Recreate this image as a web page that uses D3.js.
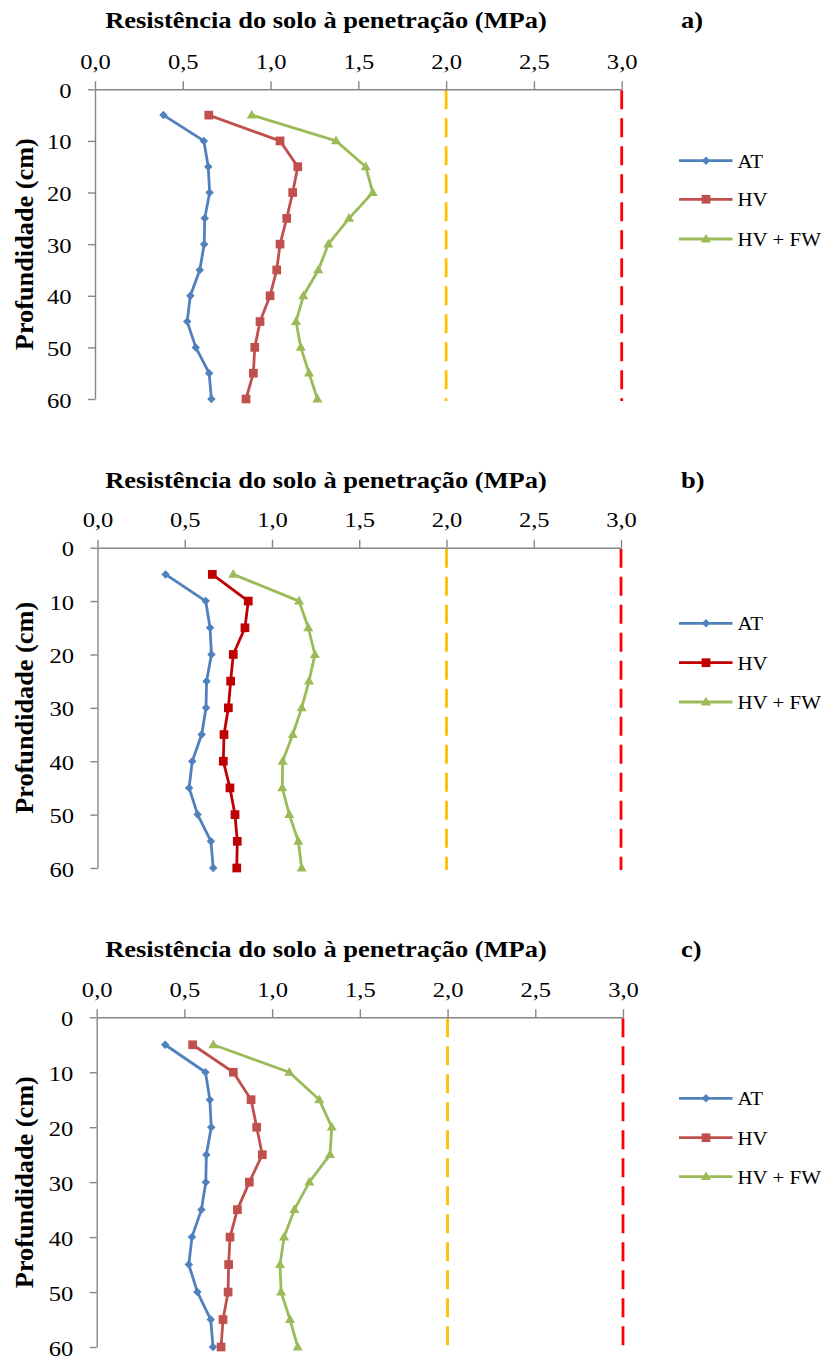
<!DOCTYPE html>
<html>
<head>
<meta charset="utf-8">
<script src="https://cdn.jsdelivr.net/npm/d3@7"></script>
<style>
html,body{margin:0;padding:0;background:#fff;}
svg{display:block;}
text{font-family:"Liberation Serif","Times New Roman",Times,serif;}
</style>
</head>
<body>
<svg id="chart" width="824" height="1358"></svg>
<script>
// ---------- data ----------
const depths = [5, 10, 15, 20, 25, 30, 35, 40, 45, 50, 55, 60];
const xTicks = [0, 0.5, 1.0, 1.5, 2.0, 2.5, 3.0];
const yTicks = [0, 10, 20, 30, 40, 50, 60];
const seriesNames = ["AT", "HV", "HV + FW"];
const panelLabels = ["a)", "b)", "c)"];
const xTitle = "Resistência do solo à penetração (MPa)";
const yTitle = "Profundidade (cm)";
const limits = [2.0, 3.0];

const AT     = [0.39, 0.62, 0.645, 0.653, 0.625, 0.622, 0.597, 0.543, 0.525, 0.574, 0.650, 0.663];
const HV_a   = [0.648, 1.054, 1.155, 1.126, 1.092, 1.054, 1.035, 0.997, 0.940, 0.910, 0.902, 0.860];
const HVFW_a = [0.893, 1.373, 1.542, 1.582, 1.447, 1.329, 1.272, 1.187, 1.145, 1.172, 1.219, 1.267];
const HV_b   = [0.658, 0.864, 0.845, 0.778, 0.763, 0.750, 0.725, 0.721, 0.759, 0.788, 0.801, 0.798];
const HVFW_b = [0.778, 1.155, 1.208, 1.246, 1.212, 1.170, 1.119, 1.061, 1.059, 1.099, 1.151, 1.170];
const HV_c   = [0.547, 0.779, 0.880, 0.912, 0.944, 0.870, 0.802, 0.760, 0.752, 0.749, 0.720, 0.709];
const HVFW_c = [0.665, 1.098, 1.269, 1.340, 1.330, 1.212, 1.127, 1.068, 1.045, 1.051, 1.102, 1.146];

// ---------- layout / style ----------
const AXIS_COLOR = "#868686";
const colAT = "#4F81BD", colFW = "#9BBB59";
const panels = [
  {x0: 95,   x1: 621.7, y0: 89.3,   y1: 399,  hv: HV_a, fw: HVFW_a, hvColor: "#C0504D", titleY: 28.3,  legY: [160.7, 199.3, 239]},
  {x0: 97.5, x1: 621,   y0: 547.7,  y1: 868,  hv: HV_b, fw: HVFW_b, hvColor: "#C00000", titleY: 488.3, legY: [623.3, 662.7, 702]},
  {x0: 96.7, x1: 623,   y0: 1017.3, y1: 1347, hv: HV_c, fw: HVFW_c, hvColor: "#C0504D", titleY: 956.7, legY: [1098.3, 1137.7, 1176.7]}
];

const svg = d3.select("#chart");

// measure the font to derive the horizontal stretch of the original text
const probe = svg.append("text").style("font-weight", "bold").style("font-size", "23.7px").text(xTitle);
const probeLen = probe.node().getComputedTextLength();
probe.remove();
const SX = Math.max(0.9, Math.min(1.2, 441.7 / probeLen));
const SXL = SX * 0.96;

const diamond = d3.symbol().type(d3.symbolSquare).size(36)();
const square = d3.symbol().type(d3.symbolSquare).size(76)();
const triangle = d3.symbol().type(d3.symbolTriangle).size(44)();

function markerPath(kind) {
  if (kind === "diamond") return diamond;
  if (kind === "square") return square;
  return triangle;
}
function markerTransform(kind, x, y) {
  if (kind === "diamond") return `translate(${x},${y}) rotate(45)`;
  if (kind === "triangle") return `translate(${x},${y + 0.5})`;
  return `translate(${x},${y})`;
}

panels.forEach((p, i) => {
  const x = d3.scaleLinear().domain([0, 3]).range([p.x0, p.x1]);
  const y = d3.scaleLinear().domain([0, 60]).range([p.y0, p.y1]);
  const g = svg.append("g");

  // title + panel letter
  g.append("text")
    .attr("transform", `translate(326,${p.titleY}) scale(${SX},1)`)
    .attr("text-anchor", "middle")
    .style("font-weight", "bold").style("font-size", "23.7px")
    .attr("fill", "#000").text(xTitle);
  g.append("text")
    .attr("transform", `translate(681,${p.titleY}) scale(${SX},1)`)
    .style("font-weight", "bold").style("font-size", "23.7px")
    .attr("fill", "#000").text(panelLabels[i]);

  // y title
  g.append("text")
    .attr("transform", `translate(33,${(p.y0 + p.y1) / 2}) rotate(-90)`)
    .attr("text-anchor", "middle")
    .style("font-weight", "bold").style("font-size", "26px")
    .attr("textLength", 212).attr("lengthAdjust", "spacingAndGlyphs")
    .attr("fill", "#000").text(yTitle);

  // limit lines (dashed)
  g.selectAll("line.limit").data(limits).enter().append("line")
    .attr("class", "limit")
    .attr("x1", d => x(d)).attr("x2", d => x(d))
    .attr("y1", p.y0 + 1).attr("y2", p.y1 + 2)
    .attr("stroke", (d, k) => k === 0 ? "#FFC000" : "#FF0000")
    .attr("stroke-width", 2.8)
    .attr("stroke-dasharray", "19,9");

  // x axis (top)
  const xa = g.append("g").attr("transform", `translate(0,${p.y0})`)
    .call(d3.axisTop(x).tickValues(xTicks).tickSize(8).tickSizeOuter(0)
      .tickFormat(d => d.toFixed(1).replace(".", ",")));
  xa.attr("font-family", null);
  xa.select(".domain").attr("stroke", AXIS_COLOR).attr("stroke-width", 1.4);
  xa.selectAll(".tick line").attr("stroke", AXIS_COLOR).attr("stroke-width", 1.4);
  xa.selectAll(".tick text")
    .attr("x", 0).attr("y", 0).attr("dy", 0)
    .attr("transform", `translate(0,-20.5) scale(${SX},1)`)
    .attr("text-anchor", "middle")
    .style("font-size", "22px").attr("fill", "#000");

  // y axis (left)
  const ya = g.append("g").attr("transform", `translate(${p.x0},0)`)
    .call(d3.axisLeft(y).tickValues(yTicks).tickSize(7).tickSizeOuter(0));
  ya.attr("font-family", null);
  ya.select(".domain").attr("stroke", AXIS_COLOR).attr("stroke-width", 1.4);
  ya.selectAll(".tick line").attr("stroke", AXIS_COLOR).attr("stroke-width", 1.4);
  ya.selectAll(".tick text")
    .attr("x", 0).attr("dy", 0)
    .attr("transform", `translate(-23.5,8) scale(${SX},1)`)
    .attr("text-anchor", "end")
    .style("font-size", "22px").attr("fill", "#000");

  // series
  const series = [
    {name: seriesNames[0], vals: AT,   color: colAT,     kind: "diamond"},
    {name: seriesNames[1], vals: p.hv, color: p.hvColor, kind: "square"},
    {name: seriesNames[2], vals: p.fw, color: colFW,     kind: "triangle"}
  ];
  const line = d3.line().x(d => x(d.v)).y(d => y(d.d));
  series.forEach((s, k) => {
    const pts = s.vals.map((v, j) => ({v, d: depths[j]}));
    g.append("path").datum(pts)
      .attr("d", line).attr("fill", "none")
      .attr("stroke", s.color).attr("stroke-width", 2.8).attr("stroke-linejoin", "round");
    g.selectAll(null).data(pts).enter().append("path")
      .attr("d", markerPath(s.kind))
      .attr("transform", d => markerTransform(s.kind, x(d.v), y(d.d)))
      .attr("fill", s.color);

    // legend
    const ly = p.legY[k];
    g.append("line").attr("x1", 679).attr("x2", 732.5).attr("y1", ly).attr("y2", ly)
      .attr("stroke", s.color).attr("stroke-width", 2.8);
    g.append("path").attr("d", markerPath(s.kind))
      .attr("transform", markerTransform(s.kind, 706, ly)).attr("fill", s.color);
    g.append("text")
      .attr("transform", `translate(737.5,${ly + 7}) scale(${SXL},1)`)
      .style("font-size", "19.5px").attr("fill", "#000")
      .text(s.name);
  });
});
</script>
</body>
</html>
